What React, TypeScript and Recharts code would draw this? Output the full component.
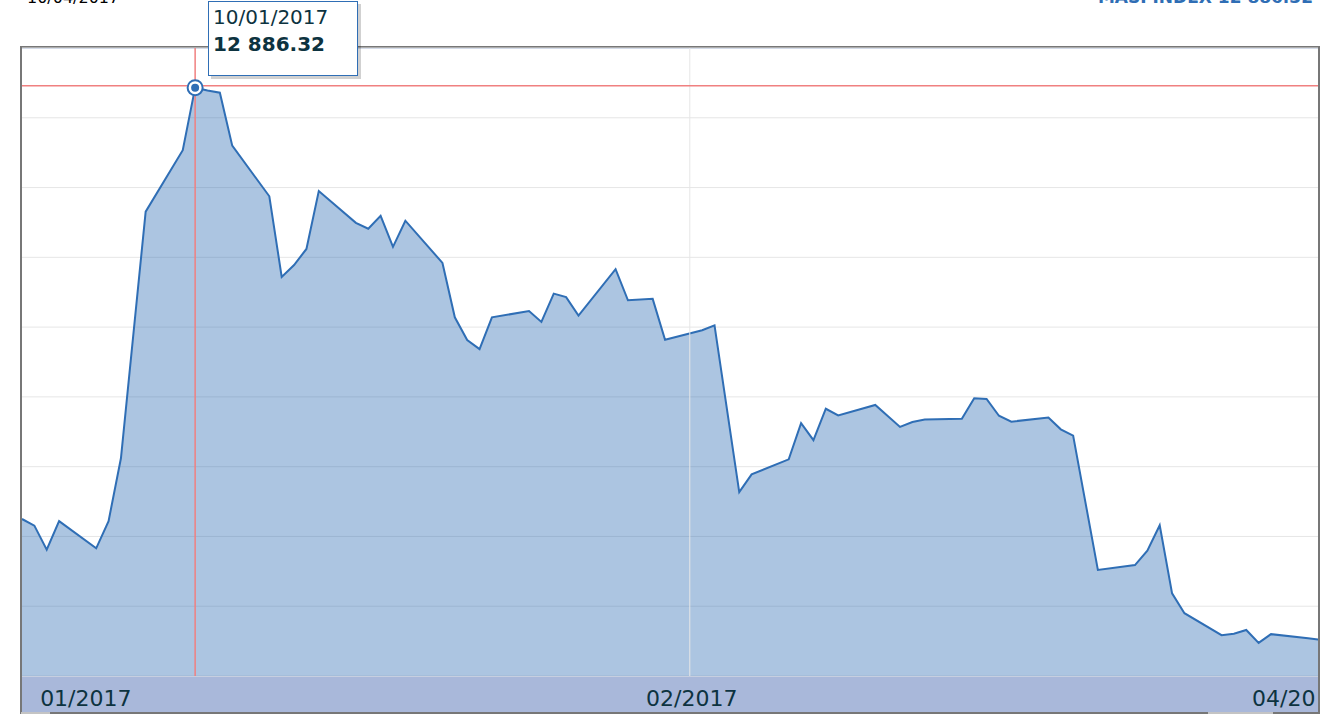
import React from 'react';
import { AreaChart, Area, XAxis, YAxis, CartesianGrid, ReferenceLine, ReferenceDot } from 'recharts';

// trading days (dd/mm/yyyy) and closing values of the index
const dates = [
  '27/12/2016', '28/12/2016', '29/12/2016', '30/12/2016',
  '02/01/2017', '03/01/2017', '04/01/2017', '06/01/2017',
  '09/01/2017', '10/01/2017', '11/01/2017', '12/01/2017', '13/01/2017',
  '16/01/2017', '17/01/2017', '18/01/2017', '19/01/2017', '20/01/2017',
  '23/01/2017', '24/01/2017', '25/01/2017', '26/01/2017', '27/01/2017',
  '30/01/2017', '31/01/2017', '01/02/2017', '02/02/2017', '03/02/2017',
  '06/02/2017', '07/02/2017', '08/02/2017', '09/02/2017', '10/02/2017',
  '13/02/2017', '14/02/2017', '16/02/2017', '17/02/2017',
  '20/02/2017', '21/02/2017', '23/02/2017', '24/02/2017',
  '27/02/2017', '28/02/2017', '01/03/2017', '02/03/2017', '03/03/2017',
  '06/03/2017', '08/03/2017', '09/03/2017', '10/03/2017',
  '13/03/2017', '14/03/2017', '15/03/2017', '16/03/2017', '17/03/2017',
  '20/03/2017', '21/03/2017', '22/03/2017', '24/03/2017',
  '27/03/2017', '28/03/2017', '29/03/2017', '30/03/2017', '31/03/2017',
  '03/04/2017', '04/04/2017', '05/04/2017', '06/04/2017', '07/04/2017',
  '10/04/2017', '11/04/2017',
];

const values = [
  11650, 11631, 11562, 11644,
  11566, 11644, 11824, 12531,
  12707, 12886.32, 12878, 12872, 12720,
  12575, 12344, 12378, 12424, 12590,
  12499, 12482, 12519, 12430, 12505,
  12384, 12228, 12163, 12137, 12228,
  12246, 12215, 12296, 12286, 12233,
  12366, 12277, 12281, 12164,
  12191, 12205, 11727, 11778,
  11821, 11925, 11876, 11966, 11947,
  11977, 11914, 11928, 11935,
  11937, 11996, 11994, 11946, 11929,
  11941, 11907, 11889, 11504,
  11518, 11559, 11632, 11437, 11380,
  11317, 11321, 11332, 11295, 11320,
  11308, 11304,
];

const tickDates = ['01/01/2017', '19/02/2017', '09/04/2017'];
const tickLabels = ['01/2017', '02/2017', '04/2017'];
const yTicks = [11200, 11400, 11600, 11800, 12000, 12200, 12400, 12600, 12800, 13000];

const indexName = 'MASI INDEX';
const rangeEnd = '10/04/2017';
const selectedDate = '10/01/2017';
const crosshairValue = 12892;

const START = Date.UTC(2016, 11, 27);
const toDay = (s: string) => {
  const [d, m, y] = s.split('/').map(Number);
  return (Date.UTC(y, m - 1, d) - START) / 86400000;
};

const data = dates.map((date, i) => ({ date, day: toDay(date), value: values[i] }));
const tickDays = tickDates.map(toDay);
const selected = data.find((p) => p.date === selectedDate)!;

const fmt = (v: number) => {
  const [int, dec] = v.toFixed(2).split('.');
  return int.replace(/\B(?=(\d{3})+(?!\d))/g, ' ') + '.' + dec;
};

const FONT = '"DejaVu Sans", Verdana, sans-serif';
const BLUE = '#2f6eb5';
const RED = '#f08080';
const TEXT = '#0d3340';

const AxisTick = ({ x, y, payload }: any) => {
  const i = tickDays.indexOf(payload.value);
  return (
    <g>
      <defs>
        <clipPath id={`tick-clip-${i}`}>
          <rect x={22} y={y} width={1294} height={40} />
        </clipPath>
      </defs>
      <text
        x={x}
        y={y}
        dx={2}
        dy={30}
        textAnchor="middle"
        fill={TEXT}
        fontSize={22}
        fontFamily={FONT}
        clipPath={`url(#tick-clip-${i})`}
      >
        {tickLabels[i]}
      </text>
    </g>
  );
};

const Marker = ({ cx, cy }: any) => (
  <g>
    <circle cx={cx} cy={cy} r={7.5} fill="#fff" stroke={BLUE} strokeWidth={2} />
    <circle cx={cx} cy={cy} r={4} fill={BLUE} />
  </g>
);

const App = () => {
  return (
    <div style={{ position: 'absolute', left: 0, top: 0, width: 1328, height: 714, overflow: 'hidden', background: '#fff', fontFamily: FONT }}>
      <svg width={1328} height={20} style={{ position: 'absolute', left: 0, top: 0 }}>
        <text x={27} y={3} fontSize={16} fill="#000" fontFamily={FONT}>{rangeEnd}</text>
        <text x={1313} y={3} fontSize={17} fontWeight="bold" fill={BLUE} textAnchor="end" fontFamily={FONT}>
          {indexName} {fmt(selected.value)}
        </text>
      </svg>

      {/* frame, axis band and scrollbar bits */}
      <div style={{ position: 'absolute', left: 20, top: 46, width: 1300, height: 668, border: '2px solid #777', boxSizing: 'border-box', background: '#fff' }} />
      <div style={{ position: 'absolute', left: 22, top: 48, width: 1296, height: 1, background: '#c3d1ea' }} />
      <div style={{ position: 'absolute', left: 22, top: 676, width: 1296, height: 36, background: '#a9b8da' }} />
      <div style={{ position: 'absolute', left: 21, top: 712, width: 29, height: 2, background: '#c4c4c4' }} />
      <div style={{ position: 'absolute', left: 1208, top: 712, width: 65, height: 2, background: '#c4c4c4' }} />

      <div style={{ position: 'absolute', left: 0, top: 0 }}>
        <AreaChart width={1318} height={714} data={data} margin={{ top: 48, right: 0, bottom: 0, left: 22 }}>
          <CartesianGrid vertical={false} stroke="#e6e6e6" />
          <XAxis
            dataKey="day"
            type="number"
            domain={[0, 104.8]}
            allowDataOverflow
            ticks={tickDays}
            interval={0}
            height={38}
            tickSize={0}
            tickMargin={0}
            tickLine={false}
            axisLine={false}
            tick={<AxisTick />}
          />
          <YAxis hide domain={[11200, 13000]} ticks={yTicks} allowDataOverflow />
          <ReferenceLine x={tickDays[1]} stroke="#e6e6e6" />
          <Area
            type="linear"
            dataKey="value"
            stroke={BLUE}
            strokeWidth={2}
            fill={BLUE}
            fillOpacity={0.4}
            dot={false}
            activeDot={false}
            isAnimationActive={false}
          />
          <ReferenceLine x={selected.day} stroke={RED} strokeWidth={1.5} />
          <ReferenceLine y={crosshairValue} stroke={RED} strokeWidth={1.5} />
          <ReferenceDot x={selected.day} y={selected.value} shape={<Marker />} />
        </AreaChart>
      </div>

      <div
        style={{
          position: 'absolute', left: 208, top: 1, width: 150, height: 75, boxSizing: 'border-box',
          border: `1px solid ${BLUE}`, background: '#fff', boxShadow: '3px 3px 0 rgba(0,0,0,0.18)',
          padding: '2px 4px', fontSize: 20, lineHeight: '27px', color: TEXT,
        }}
      >
        <div>{selected.date}</div>
        <div style={{ fontWeight: 'bold' }}>{fmt(selected.value)}</div>
      </div>
    </div>
  );
};

export default App;
